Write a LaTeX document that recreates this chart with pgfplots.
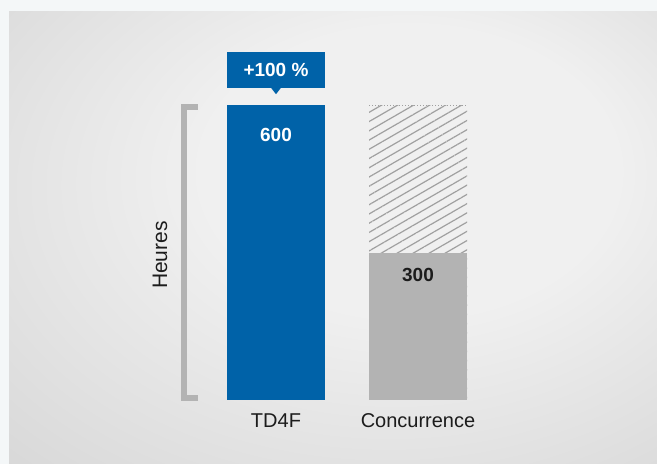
\documentclass[border=0pt]{standalone}
\usepackage{pgfplots}
\pgfplotsset{compat=1.18}
\usetikzlibrary{patterns.meta}
\usepackage{fontspec}
\setmainfont{Liberation Sans}

\definecolor{tdblue}{HTML}{0062A8}
\definecolor{bargray}{HTML}{B3B3B3}
\definecolor{hatchgray}{HTML}{A0A0A0}
\definecolor{txt}{HTML}{1C1C1C}
\definecolor{frame}{HTML}{F4F7F8}
\definecolor{bgin}{HTML}{F0F0F0}
\definecolor{bgout}{HTML}{C0C0C0}

\pgfdeclareradialshading{panel}{\pgfpoint{8bp}{10bp}}{%
  color(0bp)=(bgin); color(16bp)=(bgin); color(38bp)=(bgout!45!bgin); color(62bp)=(bgout)}

\begin{document}
\begin{tikzpicture}[x=1pt,y=1pt]
\useasboundingbox (0,0) rectangle (657,464);
\fill[frame] (0,0) rectangle (657,464);
\shade[shading=panel] (9,0) rectangle (657,452);

% bracket on the left
\draw[bargray, line width=6pt, line cap=butt, line join=miter]
  (197.5,357) -- (184,357) -- (184,66) -- (198,66);
\node[rotate=90, text=txt, font=\fontsize{21}{24}\selectfont] at (160,209) {Heures};

\begin{axis}[
  at={(227pt,64pt)}, anchor=south west,
  scale only axis, width=240pt, height=295pt,
  xmin=-0.345, xmax=1.345, ymin=0, ymax=600,
  axis line style={draw=none}, major tick length=0pt,
  xtick={0,1}, xticklabels={TD4F,Concurrence},
  ytick=\empty,
  xticklabel style={text=txt, font=\fontsize{20}{24}\selectfont, yshift=-10pt},
  clip=false,
  ybar, bar width=98pt, bar shift=0pt,
]
\addplot[draw=none, fill=tdblue] coordinates {(0,600)};
\addplot[draw=none, pattern={Lines[angle=30, distance=8pt, line width=1.2pt]},
  pattern color=hatchgray] coordinates {(1,600)};
\addplot[draw=none, fill=bargray] coordinates {(1,300)};

\draw[hatchgray, dotted, line width=1pt] (axis cs:0.655,600) -- (axis cs:1.345,600);

% value labels
\node[text=white, font=\bfseries\fontsize{19}{22}\selectfont] at (axis cs:0,539) {600};
\node[text=txt, font=\bfseries\fontsize{19}{22}\selectfont] at (axis cs:1,254) {300};

% callout
\fill[tdblue] (axis cs:-0.345,634) rectangle (axis cs:0.345,707);
\fill[tdblue] (axis cs:-0.035,635) -- (axis cs:0.035,635) -- (axis cs:0.0,622) -- cycle;
\node[text=white, font=\bfseries\fontsize{19}{22}\selectfont] at (axis cs:0,671) {+100 \%};
\end{axis}
\end{tikzpicture}
\end{document}
